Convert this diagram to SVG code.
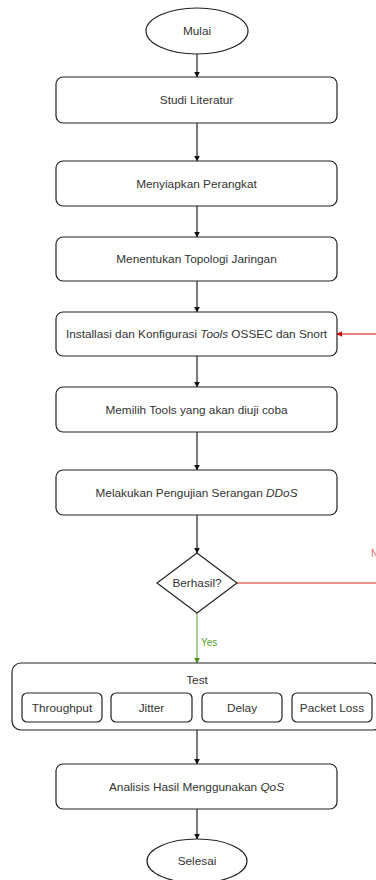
<svg xmlns="http://www.w3.org/2000/svg" width="376" height="880" viewBox="0 0 376 880">
<style>
.n{fill:#fff;stroke:#222;stroke-width:1.2}
.t{font-family:"Liberation Sans",Arial,sans-serif;font-size:11.8px;fill:#333;text-anchor:middle;dominant-baseline:central}
.s{font-family:"Liberation Sans",Arial,sans-serif;font-size:10px;dominant-baseline:central}
.e{fill:none;stroke:#333;stroke-width:1.3}
</style>
<defs>
<marker id="a" viewBox="0 0 10 10" refX="9" refY="5" markerWidth="6" markerHeight="6" orient="auto" markerUnits="userSpaceOnUse"><path d="M0,0L10,5L0,10Z" fill="#111"/></marker>
<marker id="ar" viewBox="0 0 10 10" refX="9" refY="5" markerWidth="6" markerHeight="6" orient="auto" markerUnits="userSpaceOnUse"><path d="M0,0L10,5L0,10Z" fill="#c00"/></marker>
<marker id="ag" viewBox="0 0 10 10" refX="9" refY="5" markerWidth="6" markerHeight="6" orient="auto" markerUnits="userSpaceOnUse"><path d="M0,0L10,5L0,10Z" fill="#4d8a1f"/></marker>
</defs>
<rect width="376" height="880" fill="#fff"/>
<g id="edges">
<path class="e" d="M197,54V77" marker-end="url(#a)"/>
<path class="e" d="M197,123V161" marker-end="url(#a)"/>
<path class="e" d="M197,206V237" marker-end="url(#a)"/>
<path class="e" d="M197,281V312" marker-end="url(#a)"/>
<path class="e" d="M197,356V387" marker-end="url(#a)"/>
<path class="e" d="M197,432V470" marker-end="url(#a)"/>
<path class="e" d="M197,515V553" marker-end="url(#a)"/>
<path d="M197,613V663" fill="none" stroke="#82b366" stroke-width="1.3" marker-end="url(#ag)"/>
<text class="s" x="201" y="642" fill="#5a9e2a">Yes</text>
<path d="M237,583H378" fill="none" stroke="#ea6b66" stroke-width="1.3"/>
<text class="s" x="371" y="553" fill="#ea6b66">No</text>
<path d="M378,334H337" fill="none" stroke="#c00" stroke-width="1" marker-end="url(#ar)"/>
<path class="e" d="M197,730V764" marker-end="url(#a)"/>
<path class="e" d="M197,809V839" marker-end="url(#a)"/>
</g>
<g id="mulai"><ellipse class="n" cx="197" cy="31" rx="51" ry="23"/><text class="t" x="197" y="31">Mulai</text></g>
<g id="studi"><rect class="n" x="56" y="77" width="281" height="46" rx="7"/><text class="t" x="196.5" y="100">Studi Literatur</text></g>
<g id="menyiapkan"><rect class="n" x="56" y="161" width="281" height="45" rx="7"/><text class="t" x="196.5" y="183.5">Menyiapkan Perangkat</text></g>
<g id="topologi"><rect class="n" x="56" y="237" width="281" height="44" rx="7"/><text class="t" x="196.5" y="259">Menentukan Topologi Jaringan</text></g>
<g id="instalasi"><rect class="n" x="56" y="312" width="281" height="44" rx="7"/><text class="t" x="196.5" y="334">Installasi dan Konfigurasi <tspan font-style="italic">Tools</tspan> OSSEC dan Snort</text></g>
<g id="memilih"><rect class="n" x="56" y="387" width="281" height="45" rx="7"/><text class="t" x="196.5" y="409.5">Memilih Tools yang akan diuji coba</text></g>
<g id="pengujian"><rect class="n" x="56" y="470" width="281" height="45" rx="7"/><text class="t" x="196.5" y="492.5">Melakukan Pengujian Serangan <tspan font-style="italic">DDoS</tspan></text></g>
<g id="berhasil"><path class="n" d="M197,553L237,583L197,613L157,583Z"/><text class="t" x="197" y="583">Berhasil?</text></g>
<g id="test">
<rect class="n" x="12" y="663" width="370" height="67" rx="9"/>
<text class="t" x="197" y="680">Test</text>
<g id="throughput"><rect class="n" x="22" y="693" width="80" height="29" rx="5"/><text class="t" x="62" y="707.5">Throughput</text></g>
<g id="jitter"><rect class="n" x="111" y="693" width="81" height="29" rx="5"/><text class="t" x="151.5" y="707.5">Jitter</text></g>
<g id="delay"><rect class="n" x="202" y="693" width="80" height="29" rx="5"/><text class="t" x="242" y="707.5">Delay</text></g>
<g id="packetloss"><rect class="n" x="292" y="693" width="80" height="29" rx="5"/><text class="t" x="332" y="707.5">Packet Loss</text></g>
</g>
<g id="analisis"><rect class="n" x="56" y="764" width="281" height="45" rx="7"/><text class="t" x="196.5" y="786.5">Analisis Hasil Menggunakan <tspan font-style="italic">QoS</tspan></text></g>
<g id="selesai"><ellipse class="n" cx="197" cy="861" rx="50" ry="22"/><text class="t" x="197" y="861">Selesai</text></g>
</svg>
